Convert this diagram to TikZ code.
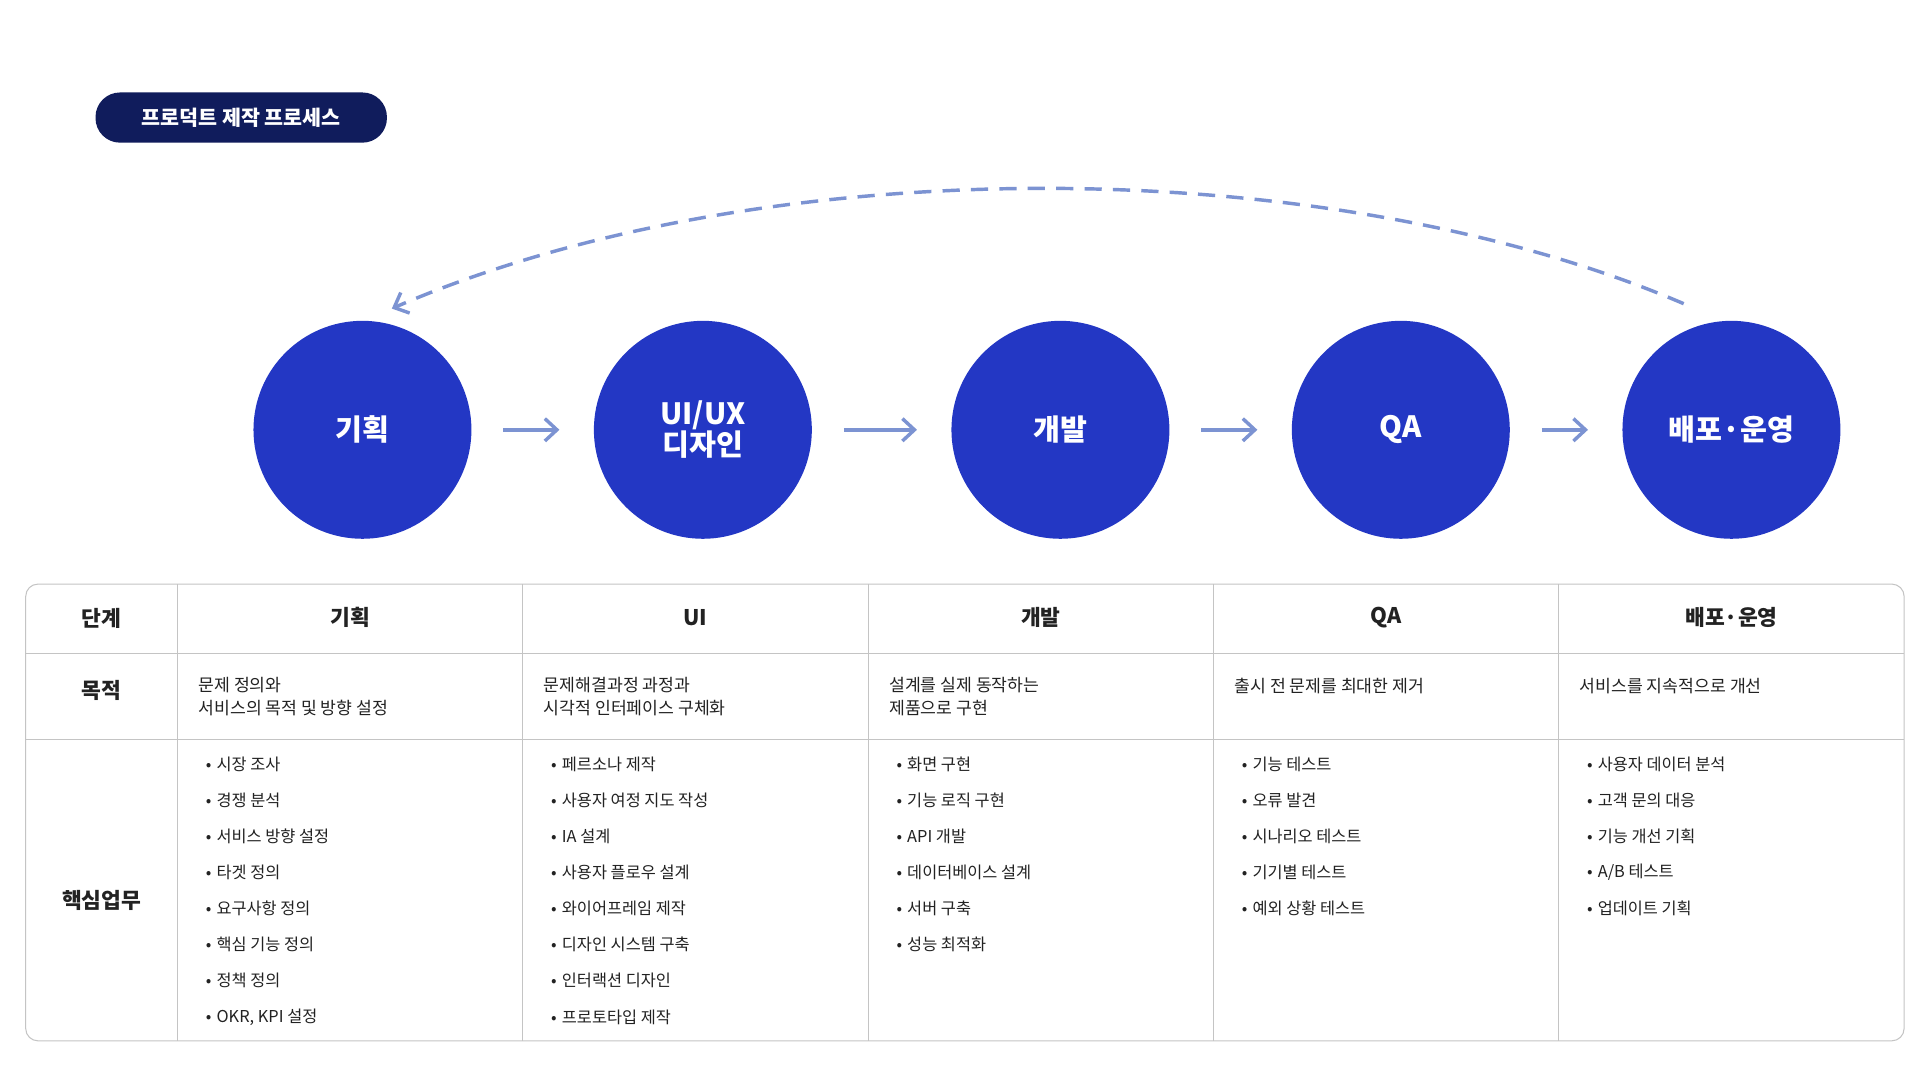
\documentclass[tikz,border=0pt]{standalone}
\usepackage{fontspec}
\setmainfont{Noto Sans CJK KR}
\usetikzlibrary{arrows.meta}
\definecolor{stepblue}{HTML}{2337C4}
\definecolor{navy}{HTML}{101C5C}
\definecolor{flowblue}{HTML}{7C93D2}
\definecolor{gridgray}{HTML}{C4C4C4}
\definecolor{ink}{HTML}{222222}
\tikzset{
  stage/.style={circle,fill=stepblue,minimum size=178*0.05cm,inner sep=0pt,
    text=white,font=\fontsize{34}{40}\selectfont\bfseries,align=center},
  flow/.style={draw=flowblue,line width=4pt,-{Straight Barb[length=14pt,width=26pt]},
    shorten >=28*0.05cm,shorten <=26*0.05cm},
  head/.style={font=\fontsize{25}{30}\selectfont\bfseries,text=ink},
  body/.style={font=\fontsize{20}{26}\selectfont,text=ink,align=left,anchor=west,inner sep=0pt},
  item/.style={font=\fontsize{19}{24}\selectfont,text=ink,anchor=west,inner sep=0pt}
}
\begin{document}
\begin{tikzpicture}[x=0.05cm,y=-0.05cm]
  \useasboundingbox[fill=white] (0,0) rectangle (1568,882);
  % title
  \node[fill=navy,rounded corners=20*0.05cm,minimum width=238*0.05cm,minimum height=41*0.05cm,
    text=white,font=\fontsize{24}{28}\selectfont\bfseries] (title) at (197,96) {프로덕트 제작 프로세스};
  % stages
  \node[stage] (s1) at (296,351) {기획};
  \node[stage] (s2) at (574,351) {UI/UX\\[-4pt]디자인};
  \node[stage] (s3) at (866,351) {개발};
  \node[stage] (s4) at (1144,351) {QA};
  \node[stage] (s5) at (1414,351) {배포·운영};
  \foreach \from/\to in {s1/s2,s2/s3,s3/s4,s4/s5}
    \draw[flow] (\from) -- (\to);
  % loop back
  \coordinate (back0) at (1375,248);
  \coordinate (back1) at (320,252);
  \draw[draw=flowblue,line width=4pt,dash pattern=on 20pt off 13pt,
    -{Straight Barb[length=14pt,width=26pt]}]
    (back0) .. controls (1080,122) and (620,122) .. (back1);
  % table
  \draw[gridgray,line width=1.2pt,rounded corners=10*0.05cm] (21,477) rectangle (1555,850);
  \foreach \x in {145,427,709,991,1273}
    \draw[gridgray,line width=1.2pt] (\x,477) -- (\x,850);
  \foreach \y in {534,604}
    \draw[gridgray,line width=1.2pt] (21,\y) -- (1555,\y);
  \node[head] (h0) at (83,505) {단계};
  \node[head] (h1) at (83,564) {목적};
  \node[head] (h2) at (83,735) {핵심업무};
  \foreach \x/\t [count=\i] in {286/기획,568/UI/UX 디자인,850/개발,1132/QA,1414/배포·운영}
    \node[head] (c\i) at (\x,504) {\t};
  \node[body] (p1) at (162,569) {문제 정의와\\서비스의 목적 및 방향 설정};
  \node[body] (p2) at (444,569) {문제해결과정 과정과\\시각적 인터페이스 구체화};
  \node[body] (p3) at (726,569) {설계를 실제 동작하는\\제품으로 구현};
  \node[body] (p4) at (1008,560) {출시 전 문제를 최대한 제거};
  \node[body] (p5) at (1290,560) {서비스를 지속적으로 개선};
  % tasks
  \foreach \x/\list [count=\c] in {
    145/{시장 조사,경쟁 분석,서비스 방향 설정,타겟 정의,요구사항 정의,핵심 기능 정의,정책 정의,{OKR, KPI 설정}},
    427/{페르소나 제작,사용자 여정 지도 작성,IA 설계,사용자 플로우 설계,와이어프레임 제작,디자인 시스템 구축,인터랙션 디자인,프로토타입 제작},
    709/{화면 구현,기능 로직 구현,API 개발,데이터베이스 설계,서버 구축,성능 최적화},
    991/{기능 테스트,오류 발견,시나리오 테스트,기기별 테스트,예외 상황 테스트},
    1273/{사용자 데이터 분석,고객 문의 대응,기능 개선 기획,A/B 테스트,업데이트 기획}}
    \foreach \t [count=\r] in \list {
      \node[item] (t\c-\r) at (\x+23,594.5+29.5*\r) {•\hspace{6pt}\t};
    }
\end{tikzpicture}
\end{document}
